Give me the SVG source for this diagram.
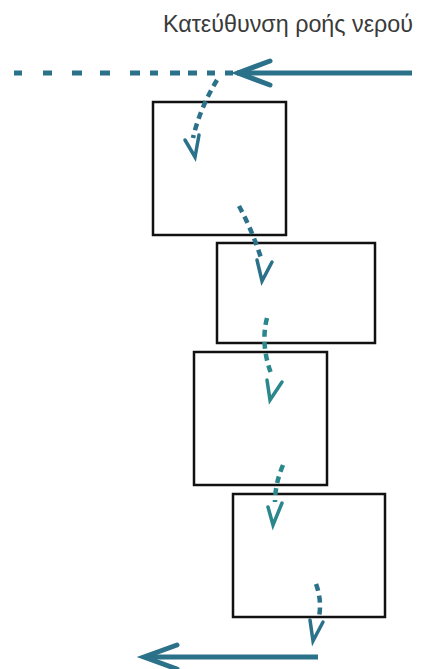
<svg xmlns="http://www.w3.org/2000/svg" width="425" height="669" viewBox="0 0 425 669">
  <style>
    .box { fill: #ffffff; stroke: #111111; stroke-width: 2.5; }
    .flow { fill: none; stroke: #2b7189; stroke-width: 5; }
    .flow2 { stroke: #2a878b; }
    .dash { fill: none; stroke-width: 4.5; stroke-dasharray: 7 5; }
    .head { fill: none; stroke-width: 3.5; stroke-linejoin: miter; stroke-linecap: round; }
    .label { font-family: "Liberation Sans", "DejaVu Sans", sans-serif; font-size: 23.3px; fill: #3a3a3a; }
  </style>

  <rect width="425" height="669" fill="#ffffff"/>

  <text class="label" x="413" y="32" text-anchor="end">Κατεύθυνση ροής νερού</text>

  <g id="box1"><rect class="box" x="153" y="102" width="133" height="133"/></g>
  <g id="box2"><rect class="box" x="217" y="243" width="158" height="100"/></g>
  <g id="box3"><rect class="box" x="194" y="352" width="133" height="133"/></g>
  <g id="box4"><rect class="box" x="233" y="494" width="152" height="123"/></g>

  <g id="connectors">
    <!-- incoming main flow -->
    <path class="flow" d="M412 73H237"/>
    <path class="flow" stroke-linecap="round" d="M270 61L238 73L270 85"/>
    <path class="flow" d="M14 73h8M43 73h9M72 73h10M100 73h10M130 73h10M150 73h8M170 73h10M188 73h9M207 73h8M225 73h8"/>

    <!-- flow through the boxes -->
    <path class="flow dash" d="M217 80Q200 108 193 138"/>
    <path class="flow head" d="M185 140L195 157L199 135"/>

    <path class="flow dash" d="M239 206Q252 230 261 258"/>
    <path class="flow head" d="M257 260L262 281L272 262"/>

    <path class="flow flow2 dash" d="M267 318Q260 345 272 376"/>
    <path class="flow flow2 head" d="M267 380L270 400L282 382"/>

    <path class="flow flow2 dash" d="M283 465Q275 484 275 502"/>
    <path class="flow flow2 head" d="M268 507L273 525L282 503"/>

    <path class="flow dash" d="M316 584Q322 600 319 617"/>
    <path class="flow head" d="M310 620L313 641L323 622"/>

    <!-- outgoing main flow -->
    <path class="flow" d="M318 657H145"/>
    <path class="flow" stroke-linecap="round" d="M177 645L144 657L177 669"/>
  </g>
</svg>
